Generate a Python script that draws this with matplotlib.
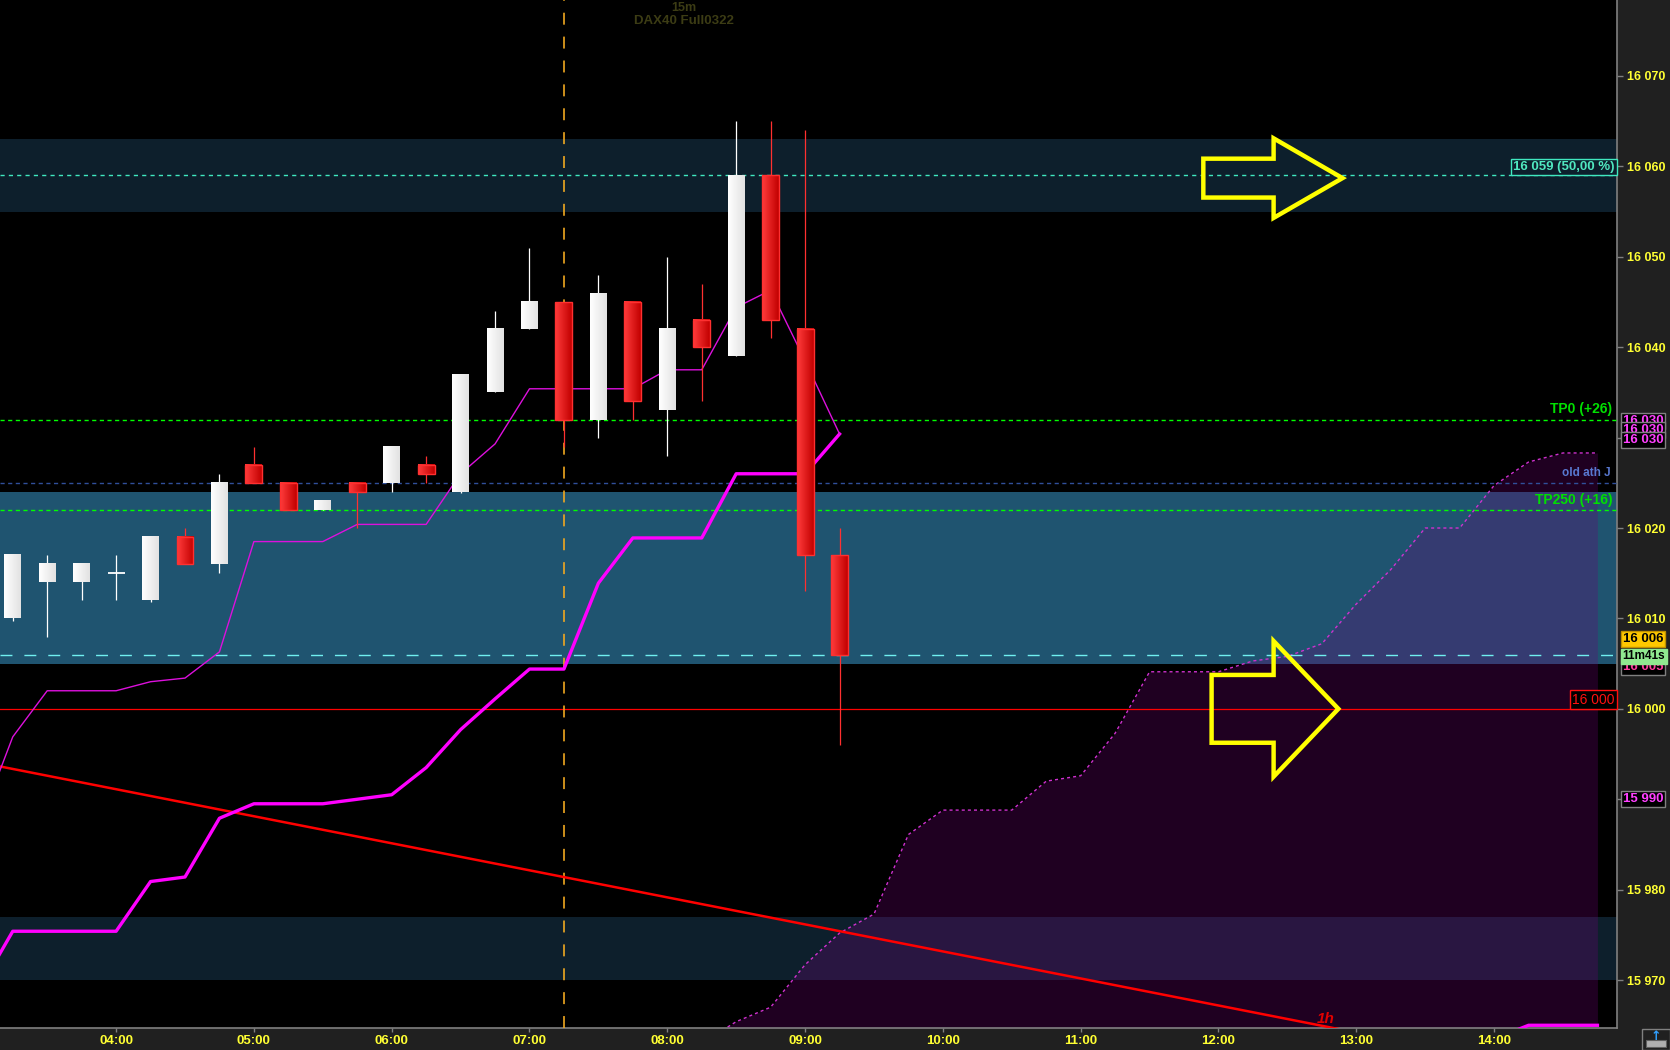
###############################################################################
### DAX40 15m candlestick chart with zones, moving averages and cloud
###############################################################################

#------------------------------------------------------------------------------
### Import packages
import matplotlib
matplotlib.use('Agg')
import matplotlib.pyplot as plt
import numpy as np
from matplotlib.colors import LinearSegmentedColormap
from matplotlib.patches import Polygon, Rectangle

plt.rcParams['font.family'] = ['Liberation Sans', 'DejaVu Sans']
plt.rcParams['lines.scale_dashes'] = False


#------------------------------------------------------------------------------
### Data

# 15 minute candles
candle_times = ['03:15', '03:30', '03:45', '04:00', '04:15', '04:30', '04:45',
                '05:00', '05:15', '05:30', '05:45', '06:00', '06:15', '06:30',
                '06:45', '07:00', '07:15', '07:30', '07:45', '08:00', '08:15',
                '08:30', '08:45', '09:00', '09:15']
opens = [16010, 16014, 16014, 16015, 16012, 16019, 16016, 16027, 16025, 16022,
         16025, 16025, 16027, 16024, 16035, 16042, 16045, 16032, 16045, 16033,
         16043, 16039, 16059, 16042, 16017]
highs = [16017, 16017, 16016, 16017, 16019, 16020, 16026, 16029, 16025, 16023,
         16025, 16029, 16028, 16037, 16044, 16051, 16045, 16048, 16045, 16050,
         16047, 16065, 16065, 16064, 16020]
lows = [16009.7, 16008, 16012, 16012, 16011.8, 16016, 16015, 16025, 16022, 16022,
        16020, 16024, 16025, 16023.9, 16035, 16042, 16029, 16030, 16032, 16028,
        16034, 16039, 16041, 16013, 15996]
closes = [16017, 16016, 16016, 16015, 16019, 16016, 16025, 16025, 16022, 16023,
          16024, 16029, 16026, 16037, 16042, 16045, 16032, 16046, 16034, 16042,
          16040, 16059, 16043, 16017, 16006]

# Moving averages (one bar before the first visible candle)
ma_times = ['03:00'] + candle_times
ma_fast = [15986.9, 15996.9, 16002.0, 16002.0, 16002.0, 16003.0, 16003.4, 16006.3,
           16018.5, 16018.5, 16018.5, 16020.4, 16020.4, 16020.4, 16026.0, 16029.3,
           16035.4, 16035.4, 16035.4, 16035.4, 16037.5, 16037.5, 16044.4, 16046.3,
           16038.5, 16030.4]
ma_slow = [15968.8, 15975.4, 15975.4, 15975.4, 15975.4, 15980.9, 15981.4, 15987.9,
           15989.5, 15989.5, 15989.5, 15990.0, 15990.5, 15993.5, 15997.7, 16001.1,
           16004.4, 16004.4, 16013.9, 16018.9, 16018.9, 16018.9, 16026.0, 16026.0,
           16026.0, 16030.4]

# Projected cloud upper edge
cloud_times = ['08:15', '08:30', '08:45', '09:00', '09:15', '09:30', '09:45',
               '10:00', '10:15', '10:30', '10:45', '11:00', '11:15', '11:30',
               '11:45', '12:00', '12:15', '12:30', '12:45', '13:00', '13:15',
               '13:30', '13:45', '14:00', '14:15', '14:30', '14:45']
cloud_upper = [15963.0, 15965.4, 15967.0, 15971.7, 15975.2, 15977.3, 15986.1,
               15988.8, 15988.8, 15988.8, 15992.0, 15992.6, 15997.3, 16004.1,
               16004.1, 16004.1, 16005.3, 16005.8, 16007.2, 16011.6, 16015.4,
               16020.0, 16020.0, 16024.7, 16027.3, 16028.3, 16028.3]

# Short lagging segment at the bottom right
lag_times = ['14:10', '14:15', '14:45']
lag_values = [15964.5, 15965.0, 15965.0]

# 1h trend line anchors
trend_times = ['03:00', '13:00']
trend_values = [15994.1, 15964.2]

# Price zones (low, high)
zones_dark = [(16054.9, 16063.0), (15970.0, 15977.0)]
zone_blue = (16005.0, 16024.0)

# Levels
level_tp0 = 16032
level_ath = 16025
level_tp250 = 16022
level_fib = 16059
level_last = 16006
level_round = 16000
session_start = '07:15'

# Axis ticks (the 15 990 and 16 030 ticks sit under price tags)
price_ticks = [15970, 15980, 15990, 16000, 16010, 16020, 16030, 16040, 16050,
               16060, 16070]
tagged_ticks = [15990, 16030]
hour_ticks = [4, 5, 6, 7, 8, 9, 10, 11, 12, 13, 14]


#------------------------------------------------------------------------------
### Set variables
W, H = 1670, 1050
AX_RIGHT = 1617
AX_BOTTOM = 22
BG = '#202020'
YELLOW = '#ffff33'
BODY_W = 0.123


#------------------------------------------------------------------------------
### Functions

def to_hours(t):
	h, m = t.split(':')
	return int(h) + int(m) / 60.0


def hours(lst):
	return np.array([to_hours(t) for t in lst])


def axis_tag(ax, price, label, text_col, face_col, edge_col, size=9.5):
	ax.text(1.0035, price, label, transform=ax.get_yaxis_transform(),
	        ha='left', va='center', color=text_col, fontsize=size,
	        fontweight='bold', clip_on=False, zorder=20,
	        bbox=dict(boxstyle='square,pad=0.15', fc=face_col, ec=edge_col, lw=1))


def draw_arrow(ax, level, tail, base, tip, shaft, head):
	pts = [(tail, level + shaft), (base, level + shaft), (base, level + head),
	       (tip, level), (base, level - head), (base, level - shaft),
	       (tail, level - shaft)]
	ax.add_patch(Polygon(pts, closed=True, fill=False, ec='#ffff00', lw=3.2,
	                     joinstyle='miter', zorder=12))


#------------------------------------------------------------------------------
### Figure

fig = plt.figure(figsize=(W / 100, H / 100), dpi=100, facecolor=BG)
ax = fig.add_axes([0, AX_BOTTOM / H, AX_RIGHT / W, 1 - AX_BOTTOM / H])
ax.set_facecolor('black')

# Zones
for lo, hi in zones_dark:
	ax.axhspan(lo, hi, color='#0d1f2c', lw=0, zorder=0)
ax.axhspan(zone_blue[0], zone_blue[1], color='#1f5470', lw=0, zorder=0)

# Cloud
cx = hours(cloud_times)
ax.fill_between(cx, cloud_upper, 15950, color=(0.43, 0.0, 0.46), alpha=0.29,
                lw=0, zorder=1)
ax.plot(cx, cloud_upper, color='#d030d0', lw=1, dashes=(2.2, 2.2), zorder=2)

# Horizontal levels
ax.axhline(level_fib, color='#40e8c0', lw=1, dashes=(3, 3), zorder=3)
ax.axhline(level_tp0, color='#00ff00', lw=1, dashes=(3, 2.5), zorder=3)
ax.axhline(level_tp250, color='#00ff00', lw=1, dashes=(3, 2.5), zorder=3)
ax.axhline(level_ath, color='#304f9a', lw=1, dashes=(3, 2.5), zorder=3)
ax.axhline(level_last, color='#70f0f0', lw=1, dashes=(8.6, 8.6), zorder=3)
ax.axhline(level_round, color='#ff0000', lw=0.9, zorder=3)
ax.axvline(to_hours(session_start), color='#f0a820', lw=1.2, dashes=(8.6, 8.6),
           zorder=3)

# Trend line and moving averages
ax.plot(hours(trend_times), trend_values, color='#ff0000', lw=1.8, zorder=4)
mx = hours(ma_times)
ax.plot(mx, ma_slow, color='#ff00ff', lw=2.4, zorder=4)
ax.plot(mx, ma_fast, color='#dd10dd', lw=1.0, zorder=4)
ax.plot(hours(lag_times), lag_values, color='#ff00ff', lw=2.4, zorder=4)

# Candles
white_cmap = LinearSegmentedColormap.from_list('w', ['#ffffff', '#e2e2e2'])
red_cmap = LinearSegmentedColormap.from_list('r', ['#ff3c3c', '#c20000'])
grad = np.linspace(0, 1, 32).reshape(1, -1)
for xi, o, h, l, c in zip(hours(candle_times), opens, highs, lows, closes):
	up = c >= o
	wick_col = 'white' if up else '#ff3030'
	ax.vlines(xi, l, h, color=wick_col, lw=0.9, zorder=5)
	top, bot = max(o, c), min(o, c)
	if top - bot < 0.2:
		ax.hlines(c, xi - BODY_W / 2, xi + BODY_W / 2, color='white', lw=1.3,
		          zorder=6)
		continue
	ax.imshow(grad, cmap=white_cmap if up else red_cmap, aspect='auto',
	          extent=[xi - BODY_W / 2, xi + BODY_W / 2, bot, top],
	          interpolation='bilinear', zorder=6)
	if not up:
		ax.add_patch(Rectangle((xi - BODY_W / 2, bot), BODY_W, top - bot,
		                       fill=False, ec='#ff3030', lw=1, zorder=7))

# Arrows
draw_arrow(ax, 16058.7, 11.89, 12.40, 12.90, 2.15, 4.4)
draw_arrow(ax, level_round, 11.95, 12.40, 12.87, 3.75, 7.5)

# Labels inside the plot
ytr = ax.get_yaxis_transform()
ax.text(0.997, level_tp0 + 0.35, 'TP0 (+26)', transform=ytr, ha='right',
        va='bottom', color='#00e000', fontsize=10, fontweight='bold', zorder=10)
ax.text(0.996, level_ath + 0.45, 'old ath J', transform=ytr, ha='right',
        va='bottom', color='#5878d0', fontsize=8.5, fontweight='bold', zorder=10)
ax.text(0.997, level_tp250 + 0.35, 'TP250 (+16)', transform=ytr, ha='right',
        va='bottom', color='#00e000', fontsize=10, fontweight='bold', zorder=10)
ax.text(0.9985, level_fib + 0.25, '16 059 (50,00 %)', transform=ytr, ha='right',
        va='bottom', color='#50e8c0', fontsize=9.5, fontweight='bold', zorder=10,
        bbox=dict(boxstyle='square,pad=0.15', fc='#0d1f2c', ec='#40e8c0', lw=1))
ax.text(0.9985, level_round + 0.25, '16 000', transform=ytr, ha='right',
        va='bottom', color='#ff1010', fontsize=10, zorder=10,
        bbox=dict(boxstyle='square,pad=0.15', fc='black', ec='#ff1010', lw=1))
ax.text(12.78, trend_values[1] + 0.7, '1h', ha='center', va='bottom',
        color='#e00000', fontsize=11, fontweight='bold', style='italic',
        zorder=10)

# Title
fig.text(684 / W, 1 - 8 / H, '15m', ha='center', va='center', color='#3c3c14',
         fontsize=9, fontweight='bold')
fig.text(684 / W, 1 - 21 / H, 'DAX40 Full0322', ha='center', va='center',
         color='#3c3c14', fontsize=9.5, fontweight='bold')

# Axes, ticks and limits
ax.set_xlim(3.1575, 14.892)
ax.set_ylim(15964.7, 16078.4)
ax.yaxis.tick_right()
ax.set_yticks(price_ticks)
ax.set_yticklabels(['' if p in tagged_ticks else '{:,}'.format(p).replace(',', ' ')
                    for p in price_ticks], fontweight='bold')
ax.set_xticks(hour_ticks)
ax.set_xticklabels(['{:02d}:00'.format(h) for h in hour_ticks], fontweight='bold')
ax.tick_params(axis='y', colors='#808080', labelcolor=YELLOW, length=4, width=1,
               pad=3, labelsize=9)
ax.tick_params(axis='x', colors='#808080', labelcolor=YELLOW, length=3, width=1,
               pad=2, labelsize=9.5)
for side in ['top', 'left']:
	ax.spines[side].set_visible(False)
for side in ['right', 'bottom']:
	ax.spines[side].set_color('#808080')
	ax.spines[side].set_linewidth(1.2)

# Price tags on the axis
axis_tag(ax, 16031.8, '16 030', '#ff40ff', 'black', '#808080')
axis_tag(ax, 16030.8, '16 030', '#ff40ff', 'black', '#808080')
axis_tag(ax, 16029.7, '16 030', '#ff40ff', 'black', '#808080')
axis_tag(ax, 16004.6, '16 005', '#ff40a0', 'black', '#808080')
axis_tag(ax, 16005.8, '11m41s', 'black', '#90e890', '#90e890', size=8.5)
axis_tag(ax, 16007.7, '16 006', 'black', '#ffc800', '#c09000')
axis_tag(ax, 15990.0, '15 990', '#ff40ff', 'black', '#808080')

# Small toolbar icon at bottom right
fig.patches.append(Rectangle((1642 / W, 0), 28 / W, 21 / H, transform=fig.transFigure,
                             fc=BG, ec='#808080', lw=1))
fig.patches.append(Rectangle((1646 / W, 3 / H), 20 / W, 7 / H, transform=fig.transFigure,
                             fc='#b0b0b0', ec='#606060', lw=0.8))
fig.text(1656 / W, 14 / H, '\u2191', ha='center', va='center', color='#30a0ff',
         fontsize=9, fontweight='bold', family='DejaVu Sans')

fig.savefig('out.png', dpi=100, facecolor=fig.get_facecolor())
plt.close()
